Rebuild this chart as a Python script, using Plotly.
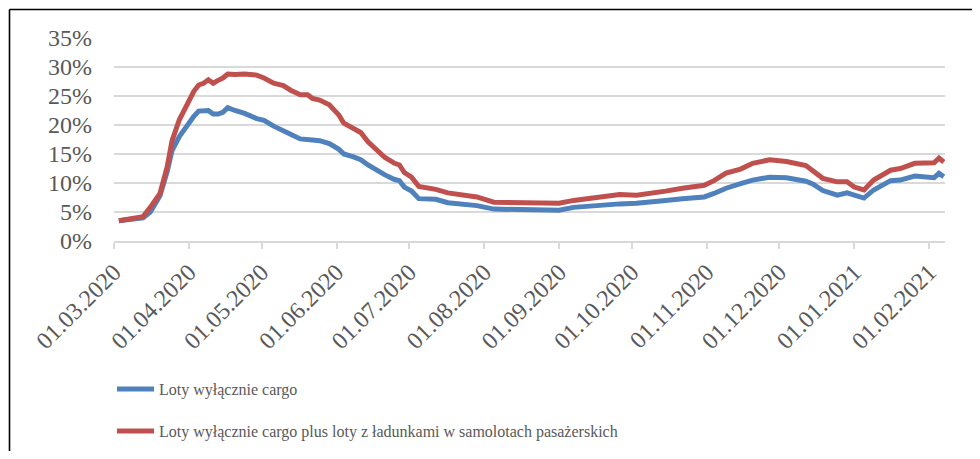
import plotly.graph_objects as go

dates = [
    "2020-03-03", "2020-03-13", "2020-03-16", "2020-03-20", "2020-03-23", "2020-03-25",
    "2020-03-28", "2020-03-31", "2020-04-03", "2020-04-05", "2020-04-07", "2020-04-09",
    "2020-04-11", "2020-04-13", "2020-04-15", "2020-04-17", "2020-04-20", "2020-04-24",
    "2020-04-29", "2020-05-02", "2020-05-06", "2020-05-10", "2020-05-13", "2020-05-17",
    "2020-05-20", "2020-05-22", "2020-05-25", "2020-05-29", "2020-06-02", "2020-06-04",
    "2020-06-08", "2020-06-11", "2020-06-14", "2020-06-18", "2020-06-21", "2020-06-25",
    "2020-06-27", "2020-06-29", "2020-07-02", "2020-07-05", "2020-07-12", "2020-07-17",
    "2020-07-23", "2020-07-29", "2020-08-05", "2020-08-11", "2020-08-17", "2020-08-28",
    "2020-09-01", "2020-09-07", "2020-09-14", "2020-09-21", "2020-09-26", "2020-10-03",
    "2020-10-10", "2020-10-15", "2020-10-22", "2020-10-31", "2020-11-04", "2020-11-09",
    "2020-11-15", "2020-11-20", "2020-11-27", "2020-12-04", "2020-12-12", "2020-12-15",
    "2020-12-19", "2020-12-25", "2020-12-29", "2021-01-01", "2021-01-05", "2021-01-09",
    "2021-01-16", "2021-01-20", "2021-01-26", "2021-02-03", "2021-02-05", "2021-02-07",
]

cargo_only = [
    3.5, 4.0, 5.0, 7.8, 12.0, 15.6,
    18.0, 19.8, 21.5, 22.4, 22.4, 22.5,
    21.9, 21.9, 22.2, 23.0, 22.5, 22.0,
    21.1, 20.8, 19.8, 19.1, 18.4, 17.6,
    17.6, 17.4, 17.3, 16.8, 15.8, 15.0,
    14.5, 14.0, 13.1, 12.1, 11.4, 10.6,
    10.4, 9.3, 8.6, 7.3, 7.2, 6.6,
    6.3, 6.1, 5.5, 5.5, 5.3, 5.3,
    5.3, 5.8, 6.1, 6.3, 6.4, 6.5,
    6.7, 7.0, 7.3, 7.6, 8.2, 9.1,
    9.9, 10.5, 11.0, 10.9, 10.3, 9.8,
    8.7, 7.9, 8.3, 7.9, 7.4, 8.8,
    10.4, 10.5, 11.2, 10.9, 11.7, 11.1,
]

cargo_plus_belly = [
    3.5, 4.2, 5.8, 8.2, 12.8, 17.3,
    20.9, 23.5, 25.8, 26.9, 27.2, 27.8,
    27.2, 27.7, 28.1, 28.8, 28.7, 28.8,
    28.6, 28.1, 27.2, 26.8, 26.0, 25.2,
    25.2, 24.6, 24.3, 23.5, 21.7, 20.3,
    19.4, 18.7, 17.1, 15.4, 14.4, 13.4,
    13.1, 11.8, 11.0, 9.4, 8.9, 8.3,
    7.9, 7.6, 6.7, 6.7, 6.5, 6.5,
    6.5, 7.0, 7.4, 7.8, 8.0, 7.9,
    8.2, 8.6, 9.1, 9.6, 10.4, 11.7,
    12.4, 13.4, 14.0, 13.7, 13.0, 12.0,
    10.8, 10.2, 10.2, 9.3, 8.8, 10.5,
    12.2, 12.5, 13.4, 13.5, 14.3, 13.6,
]

tick_dates = [
    "2020-03-01", "2020-04-01", "2020-05-01", "2020-06-01", "2020-07-01", "2020-08-01",
    "2020-09-01", "2020-10-01", "2020-11-01", "2020-12-01", "2021-01-01", "2021-02-01",
]
tick_labels = [
    "01.03.2020", "01.04.2020", "01.05.2020", "01.06.2020", "01.07.2020", "01.08.2020",
    "01.09.2020", "01.10.2020", "01.11.2020", "01.12.2020", "01.01.2021", "01.02.2021",
]

names = ["Loty wyłącznie cargo",
         "Loty wyłącznie cargo plus loty z ładunkami w samolotach pasażerskich"]

FONT = "Liberation Serif, Times New Roman, serif"
GREY = "#595959"

fig = go.Figure()
fig.add_trace(go.Scatter(x=dates, y=[v / 100 for v in cargo_only], mode="lines",
                         name=names[0], line=dict(color="#4f81bd", width=5),
                         legend="legend"))
fig.add_trace(go.Scatter(x=dates, y=[v / 100 for v in cargo_plus_belly], mode="lines",
                         name=names[1], line=dict(color="#c0504d", width=5),
                         legend="legend2"))

# page offset of the figure (default body margin)
OFF = 8
W, H = 980 - 2 * OFF, 459 - 2 * OFF
L = 114 - OFF
T = 38 - OFF
R = W - (945 - OFF)
B = H - (241 - OFF)
pw, ph = W - L - R, H - T - B

def px(xpage):
    return (xpage - OFF - L) / pw

def py(ypage):
    return (H - B - (ypage - OFF)) / ph

# outer frame (top and left edges visible in the reference)
fig.add_shape(type="line", xref="paper", yref="paper",
              x0=px(9.5), x1=px(1000), y0=py(9.5), y1=py(9.5),
              line=dict(color="black", width=1.6), layer="above")
fig.add_shape(type="line", xref="paper", yref="paper",
              x0=px(9.5), x1=px(9.5), y0=py(9.5), y1=py(480),
              line=dict(color="black", width=1.6), layer="above")

legend_common = dict(xref="container", yref="container", xanchor="left", yanchor="middle",
                     font=dict(family=FONT, size=16, color=GREY), bgcolor="rgba(0,0,0,0)",
                     borderwidth=0, itemwidth=37)

fig.update_layout(
    width=W, height=H,
    margin=dict(l=L, r=R, t=T, b=B, autoexpand=False),
    paper_bgcolor="white", plot_bgcolor="white",
    showlegend=True,
    legend=dict(x=(112 - OFF) / W, y=1 - (389 - OFF) / H, **legend_common),
    legend2=dict(x=(112 - OFF) / W, y=1 - (431 - OFF) / H, **legend_common),
    xaxis=dict(
        type="date",
        range=["2020-03-01", "2021-02-07 12:00"],
        tickvals=tick_dates, ticktext=tick_labels,
        tickangle=-45,
        tickfont=dict(family=FONT, size=24, color=GREY),
        ticks="outside", ticklen=6, tickcolor="#d9d9d9", tickwidth=1.5,
        showgrid=False, showline=True, linecolor="#d9d9d9", linewidth=1.5,
        zeroline=False, automargin=False,
    ),
    yaxis=dict(
        range=[0, 0.35], dtick=0.05, tick0=0, tickformat=".0%",
        tickfont=dict(family=FONT, size=24, color=GREY),
        showgrid=True, gridcolor="#d9d9d9", gridwidth=1.5,
        zeroline=False, showline=False, ticks="",
        ticklabelstandoff=21, automargin=False,
    ),
)

fig.write_html("out.html")
